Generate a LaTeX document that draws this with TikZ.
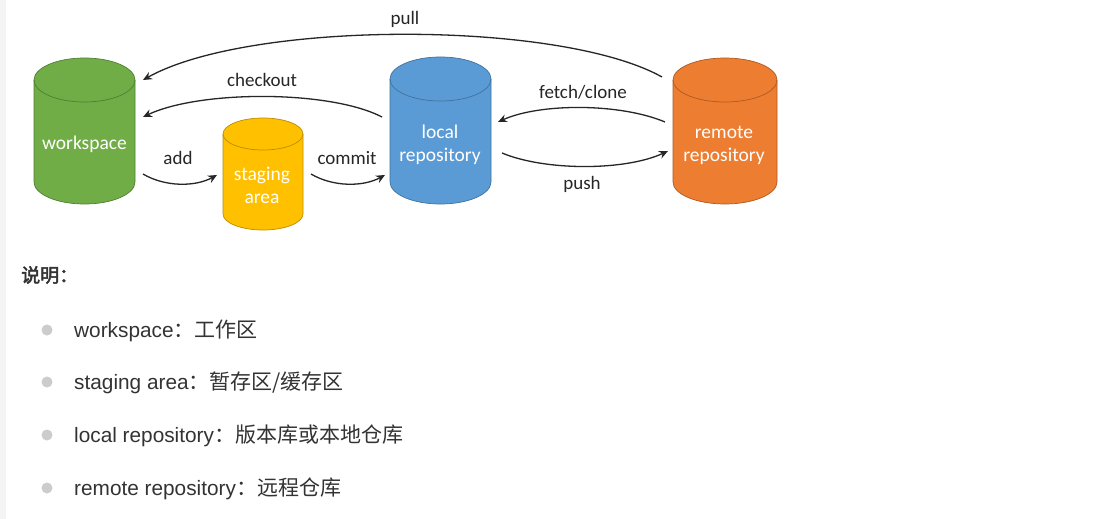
\documentclass[tikz,border=0pt]{standalone}
\usepackage{fontspec}
\usetikzlibrary{arrows.meta}
\newfontfamily\carl{Carlito}
\newfontfamily\arialf{Liberation Sans}
\newfontfamily\cjk{Noto Sans CJK SC}
\newfontfamily\cjkb[FakeBold=2.5]{Noto Sans CJK SC}
\definecolor{gfill}{HTML}{70AD47}\definecolor{gedge}{HTML}{507E32}
\definecolor{yfill}{HTML}{FFC000}\definecolor{yedge}{HTML}{BC8C00}
\definecolor{bfill}{HTML}{5B9BD5}\definecolor{bedge}{HTML}{41719C}
\definecolor{ofill}{HTML}{ED7D31}\definecolor{oedge}{HTML}{AE5A21}
\definecolor{txt}{HTML}{333333}
\definecolor{arr}{HTML}{262626}
\definecolor{bul}{HTML}{CCCCCC}
\definecolor{stripe}{HTML}{F4F4F4}
\newcommand\drawcyl[7]{%
  \filldraw[fill=#6, draw=#7, line width=0.7pt] ({#1-#4},{-#2}) -- ({#1-#4},{-#3})
    arc[start angle=180,end angle=360,x radius=#4pt,y radius=#5pt] -- ({#1+#4},{-#2})
    arc[start angle=0,end angle=180,x radius=#4pt,y radius=#5pt] -- cycle;
  \draw[#7, line width=0.7pt] ({#1-#4},{-#2}) arc[start angle=180,end angle=360,x radius=#4pt,y radius=#5pt];
}
\tikzset{
  flow/.style={arr, line width=1.3pt, -{Stealth[length=9pt,width=8pt,inset=3pt]}},
  lbl/.style={font=\carl\fontsize{19}{21}\selectfont, text=arr, inner sep=0pt},
  cyltext/.style={font=\carl\fontsize{19.5}{23}\selectfont, text=white, align=center, inner sep=0pt},
  body/.style={inner sep=0pt, outer sep=0pt},
  bullet/.style={circle, fill=bul, minimum size=11pt, inner sep=0pt},
  item/.style={anchor=base west, inner sep=0pt, text=txt},
}
\begin{document}
\begin{tikzpicture}[x=1pt,y=1pt]
\useasboundingbox (0,0) rectangle (1093,-519);
\fill[white] (0,0) rectangle (1093,-519);
\fill[stripe] (0,0) rectangle (6,-519);
% cylinders
\drawcyl{84.5}{80}{182}{50.5}{22}{gfill}{gedge}
\drawcyl{263}{134}{214}{40}{16}{yfill}{yedge}
\drawcyl{440.5}{79}{182}{50.5}{22}{bfill}{bedge}
\drawcyl{725}{80}{182}{52}{22}{ofill}{oedge}
% named bodies
\node[body, minimum width=101pt, minimum height=146pt] (ws) at (84.5,-131) {};
\node[body, minimum width=80pt, minimum height=112pt] (st) at (263,-174) {};
\node[body, minimum width=101pt, minimum height=147pt] (lr) at (440.5,-130.5) {};
\node[body, minimum width=104pt, minimum height=146pt] (rr) at (725,-131) {};
% texts
\node[cyltext] (wst) at (84.5,-144) {workspace};
\node[cyltext] (stt) at (262,-185) {staging\\area};
\node[cyltext] (lrt) at (440,-145) {local\\repository};
\node[cyltext] (rrt) at (724,-145) {remote\\repository};
% arrows
\draw[flow] ([shift={(-11,-19)}]rr.north west) .. controls (560,-20) and (250,-20) .. ([shift={(8,-22)}]ws.north east);
\draw[flow] ([shift={(-8,-60)}]lr.north west) .. controls (330,-90) and (200,-90) .. ([shift={(8,-59)}]ws.north east);
\draw[flow] ([shift={(8,-116)}]ws.north east) .. controls (165,-187) and (195,-187) .. ([shift={(-6,-57)}]st.north west);
\draw[flow] ([shift={(8,-56)}]st.north east) .. controls (333,-187) and (363,-187) .. ([shift={(-5,-118)}]lr.north west);
\draw[flow] ([shift={(-8,-64)}]rr.north west) .. controls (620,-103) and (540,-103) .. ([shift={(7,-65)}]lr.north east);
\draw[flow] ([shift={(11,-96)}]lr.north east) .. controls (545,-171) and (625,-171) .. ([shift={(-5,-93)}]rr.north west);
% arrow labels
\node[lbl] (lpull) at (405,-19) {pull};
\node[lbl] (lcheckout) at (262,-80) {checkout};
\node[lbl] (ladd) at (178,-158) {add};
\node[lbl] (lcommit) at (347,-158) {commit};
\node[lbl] (lfetch) at (583,-92) {fetch/clone};
\node[lbl] (lpush) at (582,-184) {push};
% legend
\node[anchor=west, inner sep=0pt, text=txt, font=\cjkb\fontsize{19}{21}\selectfont] (head) at (21,-275) {说明：};
\node[bullet] (b1) at (47,-330) {};
\node[bullet] (b2) at (47,-382) {};
\node[bullet] (b3) at (47,-435) {};
\node[bullet] (b4) at (47,-488) {};
\node[item] (i1) at (74,-337) {\arialf\fontsize{20.8}{24}\selectfont workspace\cjk\fontsize{21}{24}\selectfont ：工作区};
\node[item] (i2) at (74,-389) {\arialf\fontsize{20.8}{24}\selectfont staging area\cjk\fontsize{21}{24}\selectfont ：暂存区/缓存区};
\node[item] (i3) at (74,-442) {\arialf\fontsize{20.8}{24}\selectfont local repository\cjk\fontsize{21}{24}\selectfont ：版本库或本地仓库};
\node[item] (i4) at (74,-495) {\arialf\fontsize{20.8}{24}\selectfont remote repository\cjk\fontsize{21}{24}\selectfont ：远程仓库};
\end{tikzpicture}
\end{document}
